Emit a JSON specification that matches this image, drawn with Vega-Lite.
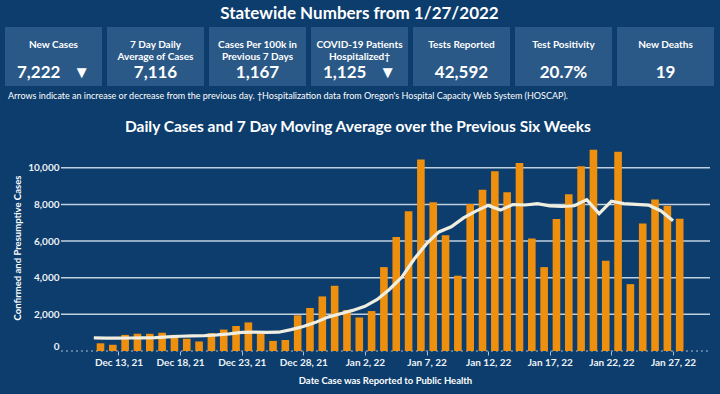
{
  "$schema": "https://vega.github.io/schema/vega-lite/v6.json",
  "background": "#0c3d6d",
  "padding": {"left": 5, "top": 5, "right": 6, "bottom": 10},
  "title": {"text": "Statewide Numbers from 1/27/2022", "fontSize": 17, "font": "Lato", "fontWeight": "bold", "color": "#ffffff", "anchor": "middle", "frame": "bounds", "offset": 4},
  "spacing": 18,
  "config": {
    "view": {"stroke": null},
    "font": "Lato",
    "title": {"color": "#ffffff", "font": "Lato", "fontWeight": "bold"},
    "text": {"color": "#ffffff", "font": "Lato"}
  },
  "vconcat": [
    {
      "width": 709,
      "height": 59,
      "title": {"text": "Arrows indicate an increase or decrease from the previous day. †Hospitalization data from Oregon's Hospital Capacity Web System (HOSCAP).", "orient": "bottom", "anchor": "start", "frame": "group", "fontSize": 9, "fontWeight": "normal", "color": "#ffffff", "offset": 6, "dx": 3},
      "data": {"values": [
        {"label": "New Cases", "value": "7,222\u2003▼"},
        {"label": "7 Day Daily\nAverage of Cases", "value": "7,116"},
        {"label": "Cases Per 100k in\nPrevious 7 Days", "value": "1,167"},
        {"label": "COVID-19 Patients\nHospitalized†", "value": "1,125\u2003▼"},
        {"label": "Tests Reported", "value": "42,592"},
        {"label": "Test Positivity", "value": "20.7%"},
        {"label": "New Deaths", "value": "19"}
      ]},
      "encoding": {
        "x": {"field": "label", "type": "nominal", "sort": null, "axis": null, "scale": {"paddingInner": 0.049, "paddingOuter": 0}}
      },
      "layer": [
        {"mark": {"type": "rect", "color": "#2b5987"}},
        {"mark": {"type": "text", "lineBreak": "\n", "fontSize": 10, "fontWeight": "bold", "dy": -12, "baseline": "middle", "lineHeight": 12}, "encoding": {"text": {"field": "label"}}},
        {"mark": {"type": "text", "fontSize": 17, "fontWeight": "bold", "dy": 16, "baseline": "middle"}, "encoding": {"text": {"field": "value"}}}
      ]
    },
    {
      "width": 705,
      "height": 207,
      "title": {"text": "Daily Cases and 7 Day Moving Average over the Previous Six Weeks", "fontSize": 15.5, "fontWeight": "bold", "color": "#ffffff", "anchor": "middle", "frame": "bounds", "offset": 9},
      "data": {"values": [
        {"date": "2021-12-11", "cases": 420, "avg": 720},
        {"date": "2021-12-12", "cases": 340, "avg": 700},
        {"date": "2021-12-13", "cases": 880, "avg": 700},
        {"date": "2021-12-14", "cases": 940, "avg": 710},
        {"date": "2021-12-15", "cases": 940, "avg": 720},
        {"date": "2021-12-16", "cases": 990, "avg": 730},
        {"date": "2021-12-17", "cases": 880, "avg": 770},
        {"date": "2021-12-18", "cases": 670, "avg": 806},
        {"date": "2021-12-19", "cases": 520, "avg": 831},
        {"date": "2021-12-20", "cases": 970, "avg": 844},
        {"date": "2021-12-21", "cases": 1170, "avg": 877},
        {"date": "2021-12-22", "cases": 1370, "avg": 939},
        {"date": "2021-12-23", "cases": 1560, "avg": 1020},
        {"date": "2021-12-24", "cases": 960, "avg": 1031},
        {"date": "2021-12-25", "cases": 550, "avg": 1014},
        {"date": "2021-12-26", "cases": 600, "avg": 1026},
        {"date": "2021-12-27", "cases": 1950, "avg": 1166},
        {"date": "2021-12-28", "cases": 2350, "avg": 1334},
        {"date": "2021-12-29", "cases": 2980, "avg": 1564},
        {"date": "2021-12-30", "cases": 3560, "avg": 1850},
        {"date": "2021-12-31", "cases": 2240, "avg": 2033},
        {"date": "2022-01-01", "cases": 1830, "avg": 2216},
        {"date": "2022-01-02", "cases": 2180, "avg": 2441},
        {"date": "2022-01-03", "cases": 4580, "avg": 2817},
        {"date": "2022-01-04", "cases": 6230, "avg": 3371},
        {"date": "2022-01-05", "cases": 7630, "avg": 4036},
        {"date": "2022-01-06", "cases": 10450, "avg": 5020},
        {"date": "2022-01-07", "cases": 8120, "avg": 5860},
        {"date": "2022-01-08", "cases": 6320, "avg": 6501},
        {"date": "2022-01-09", "cases": 4110, "avg": 6777},
        {"date": "2022-01-10", "cases": 8020, "avg": 7269},
        {"date": "2022-01-11", "cases": 8800, "avg": 7636},
        {"date": "2022-01-12", "cases": 9810, "avg": 7947},
        {"date": "2022-01-13", "cases": 8660, "avg": 7691},
        {"date": "2022-01-14", "cases": 10260, "avg": 7997},
        {"date": "2022-01-15", "cases": 6140, "avg": 7971},
        {"date": "2022-01-16", "cases": 4580, "avg": 8039},
        {"date": "2022-01-17", "cases": 7210, "avg": 7923},
        {"date": "2022-01-18", "cases": 8560, "avg": 7889},
        {"date": "2022-01-19", "cases": 10080, "avg": 7927},
        {"date": "2022-01-20", "cases": 10990, "avg": 8260},
        {"date": "2022-01-21", "cases": 4930, "avg": 7499},
        {"date": "2022-01-22", "cases": 10880, "avg": 8176},
        {"date": "2022-01-23", "cases": 3650, "avg": 8043},
        {"date": "2022-01-24", "cases": 6960, "avg": 8007},
        {"date": "2022-01-25", "cases": 8270, "avg": 7966},
        {"date": "2022-01-26", "cases": 7930, "avg": 7659},
        {"date": "2022-01-27", "cases": 7222, "avg": 7116}
      ]},
      "layer": [
        {
          "data": {"values": [{"v": 2000}, {"v": 4000}, {"v": 6000}, {"v": 8000}, {"v": 10000}]},
          "mark": {"type": "rule", "color": "#c0d0e0", "strokeWidth": 1.5},
          "encoding": {
            "x": {"datum": {"year": 2021, "month": 12, "date": 8, "hours": 8, "utc": true}, "type": "temporal"},
            "x2": {"datum": {"year": 2022, "month": 1, "date": 30, "utc": true}},
            "y": {
              "field": "v", "type": "quantitative",
              "scale": {"domain": [0, 11300], "nice": false},
              "axis": {
                "title": "Confirmed and Presumptive Cases",
                "values": [0, 2000, 4000, 6000, 8000, 10000],
                "format": ",d",
                "offset": -56,
                "grid": false, "domain": false, "ticks": false,
                "labelFlush": true,
                "labelFontSize": 10, "labelFontWeight": "bold", "labelColor": "#eef2f7", "labelPadding": 2,
                "titleFontSize": 9.5, "titleFontWeight": "bold", "titleColor": "#ffffff", "titlePadding": 5
              }
            }
          }
        },
        {
          "data": {"values": [{"v": 0}]},
          "mark": {"type": "rule", "color": "#a9bfd6", "strokeWidth": 1, "strokeDash": [2, 3]},
          "encoding": {
            "x": {"datum": {"year": 2021, "month": 12, "date": 8, "hours": 8, "utc": true}, "type": "temporal"},
            "x2": {"datum": {"year": 2022, "month": 1, "date": 30, "utc": true}},
            "y": {"field": "v", "type": "quantitative"}
          }
        },
        {
          "mark": {"type": "bar", "color": "#ee8f0e", "width": {"band": 0.7}},
          "encoding": {
            "x": {
              "field": "date", "type": "temporal", "timeUnit": "utcyearmonthdate",
              "scale": {"domain": [
                {"year": 2021, "month": 12, "date": 3, "hours": 19, "utc": true},
                {"year": 2022, "month": 1, "date": 30, "utc": true}
              ]},
              "axis": {
                "title": "Date Case was Reported to Public Health",
                "values": [
                  {"year": 2021, "month": 12, "date": 13, "utc": true},
                  {"year": 2021, "month": 12, "date": 18, "utc": true},
                  {"year": 2021, "month": 12, "date": 23, "utc": true},
                  {"year": 2021, "month": 12, "date": 28, "utc": true},
                  {"year": 2022, "month": 1, "date": 2, "utc": true},
                  {"year": 2022, "month": 1, "date": 7, "utc": true},
                  {"year": 2022, "month": 1, "date": 12, "utc": true},
                  {"year": 2022, "month": 1, "date": 17, "utc": true},
                  {"year": 2022, "month": 1, "date": 22, "utc": true},
                  {"year": 2022, "month": 1, "date": 27, "utc": true}
                ],
                "format": "%b %-d, %y",
                "grid": false, "domain": false,
                "tickColor": "#a9bfd6", "tickSize": 4,
                "labelFontSize": 10, "labelFontWeight": "bold", "labelColor": "#eef2f7", "labelPadding": 2,
                "titleFontSize": 9.5, "titleFontWeight": "bold", "titleColor": "#ffffff", "titlePadding": 8,
                "titleX": 380
              }
            },
            "y": {"field": "cases", "type": "quantitative"}
          }
        },
        {
          "mark": {"type": "line", "color": "#f0eee0", "strokeWidth": 3.2},
          "encoding": {
            "x": {"field": "date", "type": "temporal", "timeUnit": "utcyearmonthdate"},
            "y": {"field": "avg", "type": "quantitative"}
          }
        }
      ]
    }
  ]
}
